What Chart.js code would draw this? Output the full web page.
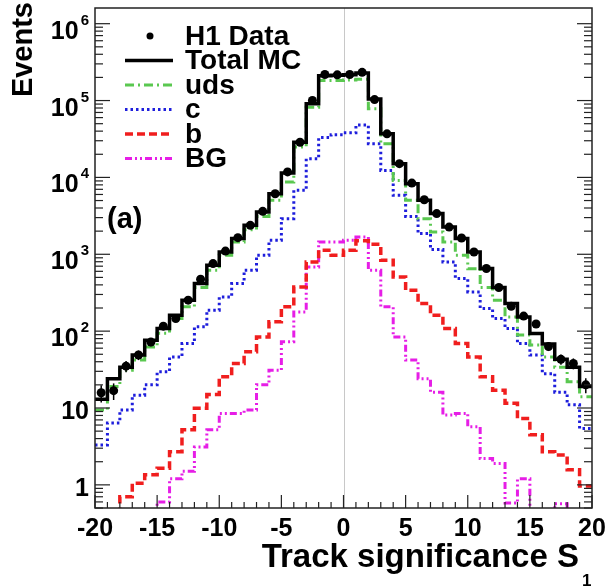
<!DOCTYPE html>
<html>
<head>
<meta charset="utf-8">
<script src="https://cdn.jsdelivr.net/npm/chart.js@4.4.1/dist/chart.umd.min.js"></script>
<style>
  html, body { margin: 0; padding: 0; background: #fff; }
</style>
</head>
<body>
<canvas id="chart" width="607" height="588"></canvas>
<script>
// bin edges of the track significance histogram (unit bins)
const binEdges = [-20, -19, -18, -17, -16, -15, -14, -13, -12, -11, -10, -9, -8, -7, -6, -5, -4, -3, -2, -1,
  0, 1, 2, 3, 4, 5, 6, 7, 8, 9, 10, 11, 12, 13, 14, 15, 16, 17, 18, 19, 20];

// events per bin, left to right
const h1Data = [15.8, 16.8, 35, 49, 72, 116, 146, 253, 473, 757, 1100, 1645, 2380, 3620, 6140, 11800, 28700, 100000, 218000, 216000,
  218000, 233000, 103000, 36900, 15100, 8430, 5130, 3380, 2260, 1630, 1070, 652, 369, 211, 157, 124, 63, 43, 38, 20];
const totalMC = [13, 24, 34, 49, 76, 108, 161, 253, 416, 720, 1070, 1600, 2380, 3550, 6140, 11400, 28700, 90600, 211000, 213000,
  216000, 228000, 105000, 36900, 15100, 8280, 5030, 3380, 2260, 1600, 1070, 652, 369, 229, 153, 93, 68, 43, 34, 19];
const udsMC = [9.4, 19, 31, 42, 62, 94, 146, 207, 369, 620, 970, 1445, 2090, 3100, 5030, 8700, 24800, 81800, 182000, 182000,
  185000, 190000, 78000, 27400, 9130, 5030, 2900, 1950, 1445, 970, 650, 369, 252, 153, 89, 66, 46, 34, 22, 14];
const charmMC = [3.3, 6.4, 9.4, 14.7, 20, 29.6, 46, 69, 114, 187, 279, 417, 620, 970, 1520, 2900, 6800, 17500, 33000, 36000,
  38000, 48000, 27400, 12300, 5840, 3100, 1860, 1150, 792, 484, 324, 197, 146, 108, 69, 49, 28, 16, 11, 5.4];
const beautyMC = [0.2, 0.2, 0.7, 1.05, 1.35, 1.65, 2.7, 5.2, 9.9, 15, 25.5, 38, 54, 84, 132, 207, 376, 792, 1130, 970,
  1130, 1500, 1350, 836, 507, 340, 229, 161, 108, 69, 46, 25.5, 17, 11.5, 7.3, 4.5, 2.7, 2.45, 1.57, 0.97];
const bgMC = [0.2, 0.2, 0.2, 0.2, 0.2, 0.6, 1.2, 1.5, 3.1, 5.2, 8.5, 8.5, 9.4, 20, 31, 73, 178, 684, 1445, 1445,
  1520, 1680, 620, 207, 84, 42, 24, 16, 8.1, 8.5, 5.7, 2.2, 1.9, 0.58, 1.2, 0.2, 0.2, 0.57, 0.2, 0.2];

const xTickLabels = [-20, -15, -10, -5, 0, 5, 10, 15, 20];
const yDecades = [0, 1, 2, 3, 4, 5, 6];

const FONT = '"Liberation Sans", Arial, Helvetica, sans-serif';

// step outline: value held from each low edge up to the next edge
function histPoints(values) {
  const pts = values.map((v, i) => ({ x: binEdges[i], y: v }));
  pts.push({ x: binEdges[values.length], y: values[values.length - 1] });
  return pts;
}
function centerPoints(values) {
  return values.map((v, i) => ({ x: (binEdges[i] + binEdges[i + 1]) / 2, y: v }));
}

function histSet(label, values, color, dash, width, order) {
  return {
    label: label, data: histPoints(values), stepped: 'before',
    borderColor: color, borderWidth: width, borderDash: dash,
    borderCapStyle: 'butt', borderJoinStyle: 'miter',
    pointRadius: 0, fill: false, order: order
  };
}

const axesPlugin = {
  id: 'rootAxes',
  beforeDatasetsDraw(chart) {
    const { ctx, chartArea: a, scales: { x } } = chart;
    ctx.save();
    ctx.strokeStyle = '#c8c8c8';
    ctx.lineWidth = 1;
    const x0 = Math.round(x.getPixelForValue(0)) + 0.5;
    ctx.beginPath(); ctx.moveTo(x0, a.top); ctx.lineTo(x0, a.bottom); ctx.stroke();
    ctx.restore();
  },
  afterDatasetsDraw(chart) {
    const { ctx, chartArea: a, scales: { x, y } } = chart;
    ctx.save();

    // error bars on the data points
    const meta = chart.getDatasetMeta(0);
    ctx.strokeStyle = '#000';
    ctx.lineWidth = 1.5;
    meta.data.forEach((pt, i) => {
      const v = h1Data[i], e = Math.sqrt(v);
      const yHi = y.getPixelForValue(v + e);
      const yLo = y.getPixelForValue(Math.max(v - e, y.min));
      ctx.beginPath(); ctx.moveTo(pt.x, yHi); ctx.lineTo(pt.x, yLo); ctx.stroke();
    });

    // frame
    ctx.strokeStyle = '#222';
    ctx.lineWidth = 1.5;
    ctx.strokeRect(a.left, a.top, a.right - a.left, a.bottom - a.top);

    // x ticks, inside, bottom only
    ctx.lineWidth = 1.2;
    for (let v = -20; v <= 20; v++) {
      const px = x.getPixelForValue(v);
      const len = v % 5 === 0 ? 13 : 6;
      ctx.beginPath(); ctx.moveTo(px, a.bottom); ctx.lineTo(px, a.bottom - len); ctx.stroke();
    }

    // log y ticks, inside, left and right
    for (let d = -1; d <= 6; d++) {
      for (let m = 1; m <= 9; m++) {
        const v = m * Math.pow(10, d);
        if (v < y.min || v > y.max) continue;
        const py = y.getPixelForValue(v);
        const len = m === 1 ? 15 : 8;
        ctx.beginPath(); ctx.moveTo(a.left, py); ctx.lineTo(a.left + len, py); ctx.stroke();
        ctx.beginPath(); ctx.moveTo(a.right, py); ctx.lineTo(a.right - len, py); ctx.stroke();
      }
    }
    ctx.restore();
  },
  afterDraw(chart) {
    const { ctx, chartArea: a, scales: { x, y } } = chart;
    ctx.save();
    ctx.fillStyle = '#000';

    // x tick labels
    ctx.font = 'bold 25px ' + FONT;
    ctx.textAlign = 'center';
    ctx.textBaseline = 'alphabetic';
    xTickLabels.forEach(v => {
      ctx.fillText(String(v), x.getPixelForValue(v), a.bottom + 28);
    });

    // y tick labels with exponents
    const right = a.left - 6;
    yDecades.forEach(d => {
      const py = y.getPixelForValue(Math.pow(10, d));
      ctx.textAlign = 'right';
      if (d <= 1) {
        ctx.font = 'bold 25px ' + FONT;
        ctx.fillText(d === 0 ? '1' : '10', right, py + 11);
      } else {
        ctx.font = 'bold 15px ' + FONT;
        const exp = String(d);
        const ew = ctx.measureText(exp).width;
        ctx.fillText(exp, right, py + 1);
        ctx.font = 'bold 25px ' + FONT;
        ctx.fillText('10', right - ew - 2, py + 15);
      }
    });

    // axis titles
    ctx.font = 'bold 33px ' + FONT;
    ctx.textAlign = 'right';
    ctx.fillText('Track significance S', 579, 567);
    ctx.font = 'bold 17px ' + FONT;
    ctx.textAlign = 'left';
    ctx.fillText('1', 582, 586);

    ctx.save();
    ctx.translate(24, 2);
    ctx.rotate(-Math.PI / 2);
    ctx.font = 'bold 29px ' + FONT;
    ctx.textAlign = 'right';
    ctx.textBaseline = 'middle';
    ctx.fillText('Events', 0, 0);
    ctx.restore();

    // panel tag
    ctx.font = 'bold 29px ' + FONT;
    ctx.textAlign = 'left';
    ctx.textBaseline = 'middle';
    ctx.fillText('(a)', 107, 220);

    // legend
    const rowY = [36, 60.5, 85, 109.5, 134, 158.5];
    chart.data.datasets.forEach((ds, i) => {
      const cy = rowY[i];
      if (ds.showLine === false) {
        ctx.beginPath(); ctx.arc(150, cy, 3.5, 0, Math.PI * 2); ctx.fill();
      } else {
        ctx.save();
        ctx.strokeStyle = ds.borderColor;
        ctx.lineWidth = ds.borderWidth;
        ctx.setLineDash(ds.borderDash || []);
        ctx.beginPath(); ctx.moveTo(125, cy); ctx.lineTo(173, cy); ctx.stroke();
        ctx.restore();
      }
      ctx.font = 'bold 28px ' + FONT;
      ctx.textAlign = 'left';
      ctx.textBaseline = 'middle';
      ctx.fillText(ds.label, 185, cy + 1);
    });
    ctx.restore();
  }
};

new Chart(document.getElementById('chart'), {
  type: 'line',
  data: {
    datasets: [
      {
        label: 'H1 Data', data: centerPoints(h1Data), showLine: false,
        pointRadius: 4.5, pointBackgroundColor: '#000', pointBorderColor: '#000', pointBorderWidth: 0, order: 0
      },
      histSet('Total MC', totalMC, '#000', [], 3.5, 1),
      histSet('uds', udsMC, 'rgb(90,200,80)', [9, 4, 2, 4], 3, 2),
      histSet('c', charmMC, 'rgb(30,30,220)', [2.5, 3], 3, 3),
      histSet('b', beautyMC, 'rgb(240,30,30)', [8, 4], 3.5, 4),
      histSet('BG', bgMC, 'rgb(230,30,230)', [7, 3, 2, 3, 2, 3], 3, 5)
    ]
  },
  options: {
    responsive: false,
    animation: false,
    layout: { padding: { top: 8, right: 15, left: 0, bottom: 0 } },
    plugins: { legend: { display: false }, tooltip: { enabled: false } },
    scales: {
      x: {
        type: 'linear', min: -20, max: 20,
        grid: { display: false }, border: { display: false }, ticks: { display: false },
        afterFit(scale) { scale.height = 80; }
      },
      y: {
        type: 'logarithmic', min: 0.5, max: 1.6e6,
        grid: { display: false }, border: { display: false }, ticks: { display: false },
        afterFit(scale) { scale.width = 95; }
      }
    }
  },
  plugins: [axesPlugin]
});
</script>
</body>
</html>
